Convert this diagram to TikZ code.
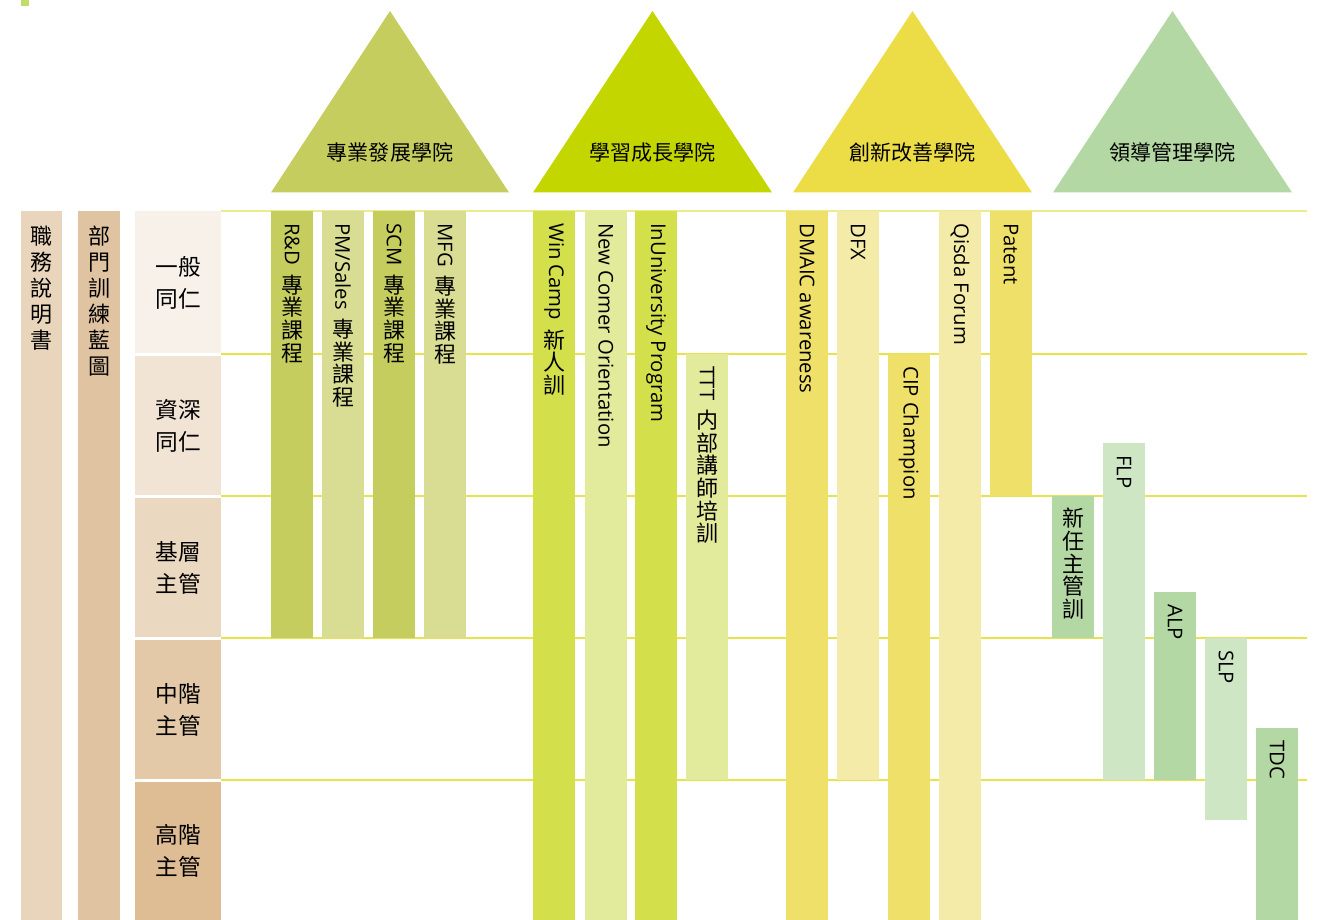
\documentclass[tikz,border=0pt]{standalone}
\usepackage{fontspec}
\setmainfont{Open Sans}
\newfontfamily\cjk{Noto Sans CJK TC}
\usetikzlibrary{positioning}
\usepackage{xcolor}

\definecolor{rowA}{HTML}{F7F1E9}
\definecolor{rowB}{HTML}{F1E4D4}
\definecolor{rowC}{HTML}{EBD8C0}
\definecolor{rowD}{HTML}{E4C9A9}
\definecolor{rowE}{HTML}{DEBC94}
\definecolor{colA}{HTML}{E9D5BC}
\definecolor{colB}{HTML}{E0C3A1}
\definecolor{gridY}{HTML}{E6E34C}
\definecolor{gridP}{HTML}{EDEB8E}
\definecolor{proDark}{HTML}{C5CD5E}
\definecolor{proLight}{HTML}{D9DD94}
\definecolor{lrnTri}{HTML}{C4D600}
\definecolor{lrnDark}{HTML}{D3DF4B}
\definecolor{lrnLight}{HTML}{E2EA9B}
\definecolor{innTri}{HTML}{ECDC45}
\definecolor{innDark}{HTML}{EEE068}
\definecolor{innLight}{HTML}{F5EBA8}
\definecolor{ldrDark}{HTML}{B4D8A3}
\definecolor{ldrLight}{HTML}{CFE6C5}
\definecolor{cornerTag}{HTML}{C2DC6B}

% rotated latin part of a vertical label
\newcommand{\lat}[1]{\rotatebox{-90}{\normalfont\fontsize{15.2}{16}\selectfont #1}}
% one course bar: name, colour, left x, top y, bottom y, label
\newcommand{\course}[6]{%
  \fill[#2] (#3,#4) rectangle ++(42,#5-#4);
  \node[vtext] (#1) at (#3+21,#4+12) {#6};
}

\begin{document}
\begin{tikzpicture} [
      x = 0.75pt, y = -0.75pt,
      every node/.style = { inner sep = 0, text = black },
      vtext/.style = { anchor = north, align = center, font = \cjk\fontsize{16.5}{17}\selectfont },
      rowtext/.style = { align = center, font = \cjk\fontsize{17}{24}\selectfont },
      coltext/.style = { anchor = north, align = center, font = \cjk\fontsize{16.5}{19.5}\selectfont },
      tritext/.style = { font = \cjk\fontsize{15.8}{18}\selectfont },
      gridline/.style = { gridY, line width = 1.5 }
      ]
      \useasboundingbox (0,0) rectangle (1324,920);
      \fill[cornerTag] (21,0) rectangle (29,6);

      % academies
      \fill[proDark] (271,192.5) -- (390,11) -- (509,192.5) -- cycle;
      \fill[lrnTri] (533,192.5) -- (652.5,11) -- (772,192.5) -- cycle;
      \fill[innTri] (793,192.5) -- (912.5,11) -- (1032,192.5) -- cycle;
      \fill[ldrDark] (1053,192.5) -- (1172.5,11) -- (1292,192.5) -- cycle;
      \node[tritext] (pro) at (390,152) {專業發展學院};
      \node[tritext] (lrn) at (652.5,152) {學習成長學院};
      \node[tritext] (inn) at (912.5,152) {創新改善學院};
      \node[tritext] (ldr) at (1172.5,152) {領導管理學院};

      % left columns and levels
      \fill[colA] (21,211) rectangle (62,920);
      \fill[colB] (78,211) rectangle (120,920);
      \node[coltext] (jd) at (41.5,226) {職\\務\\說\\明\\書};
      \node[coltext] (map) at (99,226) {部\\門\\訓\\練\\藍\\圖};

      \fill[rowA] (135,211) rectangle (221,353);
      \fill[rowB] (135,356) rectangle (221,495);
      \fill[rowC] (135,498) rectangle (221,637);
      \fill[rowD] (135,640) rectangle (221,779);
      \fill[rowE] (135,782) rectangle (221,920);
      \node[rowtext] (lv1) at (178,283) {一般\\同仁};
      \node[rowtext] (lv2) at (178,425.5) {資深\\同仁};
      \node[rowtext] (lv3) at (178,567.5) {基層\\主管};
      \node[rowtext] (lv4) at (178,709.5) {中階\\主管};
      \node[rowtext] (lv5) at (178,851) {高階\\主管};

      % level lines
      \draw[gridline, gridP] (221,211) -- (1307,211);
      \foreach \y in {354,496,638,780}
        \draw[gridline] (221,\y) -- (1307,\y);

      % courses
      \course{rd}{proDark}{271}{211}{638}{\lat{R\&D}\\[6pt]專\\業\\課\\程}
      \course{pm}{proLight}{322}{211}{638}{\lat{PM/Sales}\\[6pt]專\\業\\課\\程}
      \course{scm}{proDark}{373}{211}{638}{\lat{SCM}\\[6pt]專\\業\\課\\程}
      \course{mfg}{proLight}{424}{211}{638}{\lat{MFG}\\[6pt]專\\業\\課\\程}

      \course{win}{lrnDark}{533}{211}{920}{\lat{Win Camp}\\[6pt]新\\人\\訓}
      \course{ncomer}{lrnLight}{585}{211}{920}{\lat{New Comer Orientation}}
      \course{inu}{lrnDark}{635}{211}{920}{\lat{InUniversity Program}}
      \course{ttt}{lrnLight}{686}{354}{780}{\lat{TTT}\\[6pt]内\\部\\講\\師\\培\\訓}

      \course{dmaic}{innDark}{786}{211}{920}{\lat{DMAIC awareness}}
      \course{dfx}{innLight}{837}{211}{780}{\lat{DFX}}
      \course{cip}{innDark}{888}{354}{920}{\lat{CIP Champion}}
      \course{qisda}{innLight}{939}{211}{920}{\lat{Qisda Forum}}
      \course{patent}{innDark}{990}{211}{496}{\lat{Patent}}

      \course{newmgr}{ldrDark}{1052}{496}{638}{新\\任\\主\\管\\訓}
      \course{flp}{ldrLight}{1103}{443}{780}{\lat{FLP}}
      \course{alp}{ldrDark}{1154}{592}{780}{\lat{ALP}}
      \course{slp}{ldrLight}{1205}{638}{820}{\lat{SLP}}
      \course{tdc}{ldrDark}{1256}{728}{920}{\lat{TDC}}
\end{tikzpicture}
\end{document}
